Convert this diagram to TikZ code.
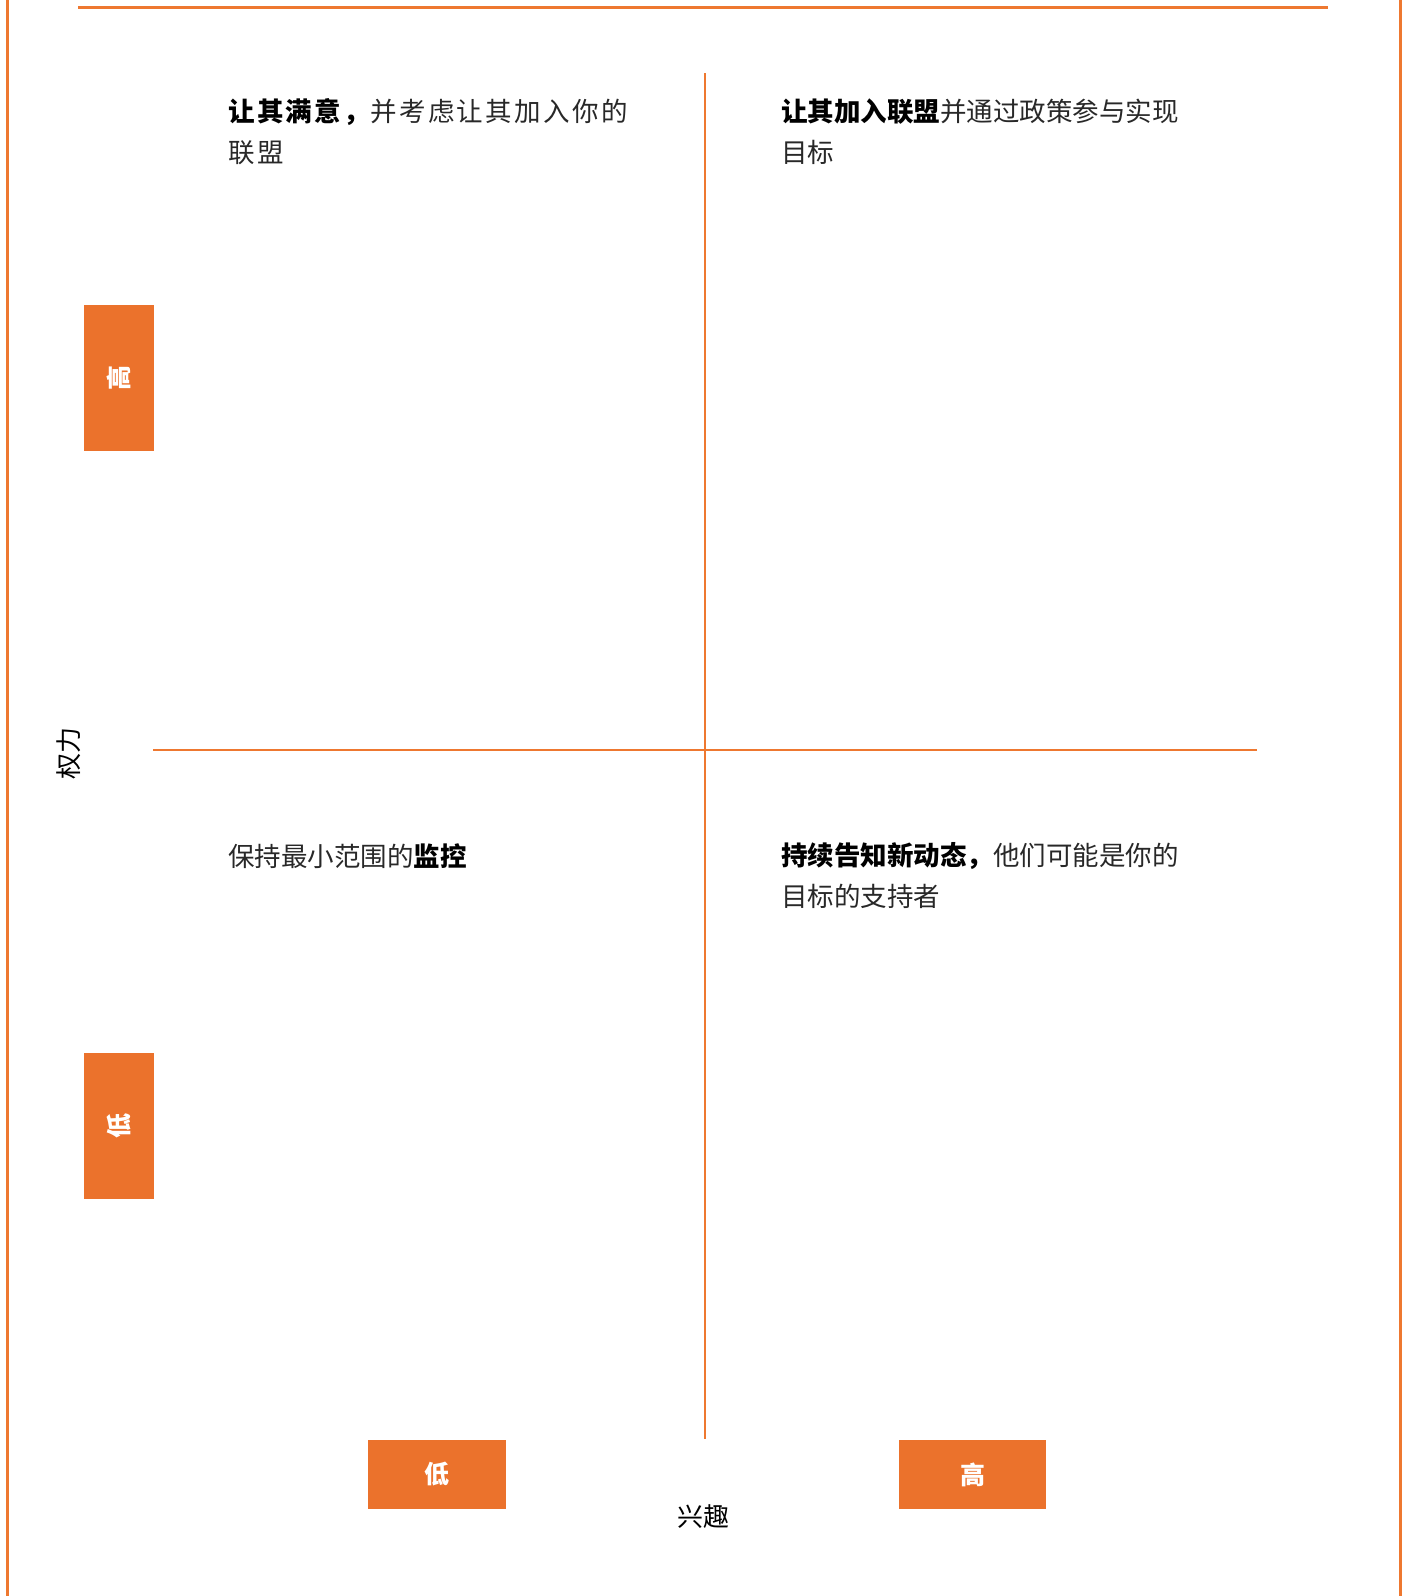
\documentclass[tikz,border=0pt]{standalone}
\usepackage{fontspec}
\setmainfont{Noto Sans CJK SC}
\newfontfamily\cjk{Noto Sans CJK SC}
\definecolor{orng}{RGB}{235,114,44}
\definecolor{lineor}{RGB}{238,120,48}
\definecolor{txtgray}{RGB}{40,40,40}
\tikzset{
  axisline/.style={draw=lineor, line width=2.8pt},
  framel/.style={draw=lineor, line width=3pt},
  lvlbox/.style={fill=orng, draw=none, inner sep=0pt, text=white, font=\cjk\bfseries\fontsize{25}{25}\selectfont},
  quad/.style={anchor=base west, inner sep=0pt, align=left, text=txtgray, font=\cjk\fontsize{26.5}{40.7}\selectfont},
  axlabel/.style={inner sep=0pt, text=black, font=\cjk\fontsize{26}{26}\selectfont}
}
\begin{document}
\begin{tikzpicture}[x=1pt,y=-1pt]
\useasboundingbox (0,0) rectangle (1407,1596);
% frame
\coordinate (fl1) at (7,0); \coordinate (fl2) at (7,1596);
\coordinate (fr1) at (1400,0); \coordinate (fr2) at (1400,1596);
\coordinate (ft1) at (78,7); \coordinate (ft2) at (1328,7);
\draw[framel] (fl1) -- (fl2);
\draw[framel] (fr1) -- (fr2);
\draw[framel] (ft1) -- (ft2);
% axes
\coordinate (vtop) at (705,73); \coordinate (vbot) at (705,1439);
\coordinate (hl) at (153,750); \coordinate (hr) at (1257,750);
\draw[axisline] (vtop) -- (vbot);
\draw[axisline] (hl) -- (hr);
% level boxes
\node[lvlbox, minimum width=70pt, minimum height=146pt] (hiL) at (118.6,378) {\rotatebox{90}{高}};
\node[lvlbox, minimum width=70pt, minimum height=146pt] (loL) at (118.6,1125.5) {\rotatebox{90}{低}};
\node[lvlbox, minimum width=137.5pt, minimum height=69pt] (loB) at (437.2,1474.5) {低};
\node[lvlbox, minimum width=147pt, minimum height=69pt] (hiB) at (972.5,1474.5) {高};
% axis labels
\node[axlabel, rotate=90] (power) at (69,753) {权力};
\node[axlabel] (interest) at (703,1517) {兴趣};
% quadrant texts
\node[quad, font=\cjk\addfontfeatures{LetterSpace=9}\fontsize{26.5}{40.7}\selectfont] (tl) at (228,162.2) {{\bfseries\color{black}让其满意，}并考虑让其加入你的\\联盟};
\node[quad] (tr) at (781,162.2) {{\bfseries\color{black}让其加入联盟}并通过政策参与实现\\目标};
\node[quad] (bl) at (228,866) {保持最小范围的{\bfseries\color{black}监控}};
\node[quad] (br) at (781,906.2) {{\bfseries\color{black}持续告知新动态，}他们可能是你的\\目标的支持者};
\end{tikzpicture}
\end{document}
